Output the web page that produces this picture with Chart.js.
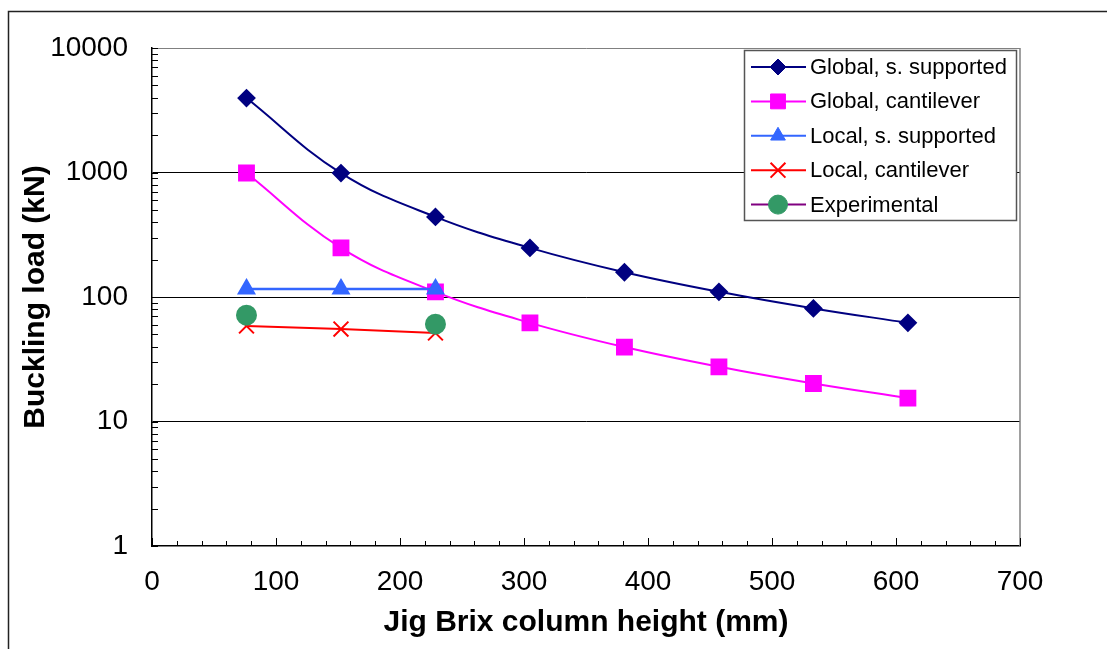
<!DOCTYPE html>
<html>
<head>
<meta charset="utf-8">
<script src="https://cdn.jsdelivr.net/npm/chart.js@4/dist/chart.umd.min.js"></script>
<style>
html,body{margin:0;padding:0;background:#fff;}
#wrap{width:1107px;height:649px;position:relative;}
</style>
</head>
<body>
<div id="wrap"><canvas id="c" width="1107" height="649"></canvas></div>
<script>
// ---- data ----
const heights = [76.2, 152.4, 228.6, 304.8, 381, 457.2, 533.4, 609.6];
const globalSS = [3960, 990, 440, 248, 158, 110, 81, 62];
const globalCant = [990, 248, 110, 62, 39.6, 27.5, 20.2, 15.4];
const localHeights = [76.2, 152.4, 228.6];
const localSS = [116, 116, 116];
const localCant = [58.5, 55.3, 51.4];
const expHeights = [76.2, 228.6];
const experimental = [71.5, 60.5];
const xTickValues = [0, 100, 200, 300, 400, 500, 600, 700];
const yTickValues = [1, 10, 100, 1000, 10000];
const seriesNames = ['Global, s. supported', 'Global, cantilever', 'Local, s. supported', 'Local, cantilever', 'Experimental'];
const xTitle = 'Jig Brix column height (mm)';
const yTitle = 'Buckling load (kN)';

function pts(xs, ys) { return xs.map((x, i) => ({x: x, y: ys[i]})); }

const FONT = "'Liberation Sans', Arial, sans-serif";

const datasets = [
  {label: seriesNames[0], data: pts(heights, globalSS), borderColor: '#000080', backgroundColor: '#000080',
   borderWidth: 2, pointStyle: 'rectRot', pointRadius: 8, tension: 0.4, order: 4, legendLine: '#000080'},
  {label: seriesNames[1], data: pts(heights, globalCant), borderColor: '#FF00FF', backgroundColor: '#FF00FF',
   borderWidth: 2, pointStyle: 'rect', pointRadius: 10.5, tension: 0.4, order: 3, legendLine: '#FF00FF'},
  {label: seriesNames[2], data: pts(localHeights, localSS), borderColor: '#3366FF', backgroundColor: '#3366FF',
   borderWidth: 2.5, pointStyle: 'triangle', pointRadius: 8.5, tension: 0, order: 2, legendLine: '#3366FF'},
  {label: seriesNames[3], data: pts(localHeights, localCant), borderColor: '#FF0000', backgroundColor: '#FF0000',
   borderWidth: 2, pointStyle: 'crossRot', pointRadius: 10.5, pointBorderWidth: 2, tension: 0, order: 1, legendLine: '#FF0000'},
  {label: seriesNames[4], data: pts(expHeights, experimental), borderColor: '#800080', backgroundColor: '#339966',
   pointBorderColor: '#339966', borderWidth: 2, pointStyle: 'circle', pointRadius: 9.5, showLine: false, order: 0, legendLine: '#800080'}
];

function drawMarker(ctx, ds, x, y) {
  ctx.save();
  ctx.fillStyle = ds.backgroundColor;
  ctx.strokeStyle = ds.pointBorderColor || ds.borderColor;
  ctx.lineWidth = ds.pointBorderWidth || 1;
  Chart.helpers.drawPoint(ctx, {pointStyle: ds.pointStyle, radius: ds.pointRadius, rotation: 0, borderWidth: ds.pointBorderWidth || 1}, x, y);
  ctx.restore();
}

const framePlugin = {
  id: 'frame',
  beforeDraw(chart) {
    const ctx = chart.ctx;
    ctx.save();
    ctx.fillStyle = '#fff';
    ctx.fillRect(0, 0, chart.width, chart.height);
    ctx.strokeStyle = '#222';
    ctx.lineWidth = 1.5;
    ctx.beginPath();
    ctx.moveTo(8.5, chart.height);
    ctx.lineTo(8.5, 11.5);
    ctx.lineTo(chart.width, 11.5);
    ctx.stroke();
    ctx.restore();
  },
  beforeDatasetsDraw(chart) {
    const ctx = chart.ctx, a = chart.chartArea;
    const xs = chart.scales.x, ys = chart.scales.y;
    ctx.save();
    ctx.strokeStyle = '#808080';
    ctx.lineWidth = 1.5;
    ctx.beginPath();
    ctx.moveTo(a.right, a.top);
    ctx.lineTo(a.right, a.bottom);
    ctx.stroke();
    ctx.strokeStyle = '#000';
    ctx.lineWidth = 1;
    ctx.beginPath();
    for (let d = 1; d < 10000; d *= 10) {
      for (let k = 1; k <= 10; k++) {
        const py = Math.round(ys.getPixelForValue(d * k)) + 0.5;
        ctx.moveTo(a.left, py);
        ctx.lineTo(a.left + 6, py);
      }
    }
    for (let v = 0; v <= 700; v += 20) {
      const px = Math.round(xs.getPixelForValue(v)) + 0.5;
      const len = (v % 100 === 0) ? 8 : 5;
      ctx.moveTo(px, a.bottom);
      ctx.lineTo(px, a.bottom - len);
    }
    ctx.stroke();
    ctx.restore();
  },
  afterDraw(chart) {
    const ctx = chart.ctx;
    ctx.save();
    const bx = 744.5, by = 50.5, bw = 272, bh = 170;
    ctx.fillStyle = '#fff';
    ctx.fillRect(bx, by, bw, bh);
    ctx.strokeStyle = '#555';
    ctx.lineWidth = 1.5;
    ctx.strokeRect(bx, by, bw, bh);
    ctx.font = '22px ' + FONT;
    ctx.textBaseline = 'middle';
    ctx.textAlign = 'left';
    chart.data.datasets.forEach((ds, i) => {
      const y = 67 + i * 34.4;
      ctx.strokeStyle = ds.legendLine;
      ctx.lineWidth = 2;
      ctx.beginPath();
      ctx.moveTo(751, y);
      ctx.lineTo(806, y);
      ctx.stroke();
      drawMarker(ctx, ds, 778, y);
      ctx.fillStyle = '#000';
      ctx.fillText(ds.label, 810, y + 1);
    });
    ctx.restore();
  }
};

new Chart(document.getElementById('c'), {
  type: 'line',
  data: {datasets: datasets},
  options: {
    responsive: false,
    devicePixelRatio: 1,
    animation: false,
    events: [],
    layout: {padding: {top: 48, right: 87, left: 0, bottom: 0}},
    plugins: {legend: {display: false}, tooltip: {enabled: false}, title: {display: false}},
    scales: {
      x: {
        type: 'linear', min: 0, max: 700,
        afterBuildTicks(scale) { scale.ticks = xTickValues.map(v => ({value: v})); },
        afterFit(scale) { scale.height = 103; },
        grid: {display: false, drawTicks: false},
        border: {display: true, color: '#000', width: 1.5},
        ticks: {color: '#000', font: {family: FONT, size: 28}, padding: 19, maxRotation: 0},
        title: {display: true, text: xTitle, color: '#000', font: {family: FONT, size: 30, weight: 'bold'}, padding: {top: 0, bottom: 8}}
      },
      y: {
        type: 'logarithmic', min: 1, max: 10000,
        afterBuildTicks(scale) { scale.ticks = yTickValues.map(v => ({value: v})); },
        afterFit(scale) { scale.width = 152; },
        grid: {
          drawTicks: false,
          lineWidth: 1,
          color: (c) => (c.tick && c.tick.value === 10000) ? '#808080' : (c.tick && c.tick.value === 1) ? 'rgba(0,0,0,0)' : '#000'
        },
        border: {display: true, color: '#000', width: 1.5},
        ticks: {color: '#000', font: {family: FONT, size: 28}, padding: 24, callback: (v) => String(v)},
        title: {display: true, text: yTitle, color: '#000', font: {family: FONT, size: 30, weight: 'bold'}, padding: {top: 18, bottom: 0}}
      }
    }
  },
  plugins: [framePlugin]
});
</script>
</body>
</html>
